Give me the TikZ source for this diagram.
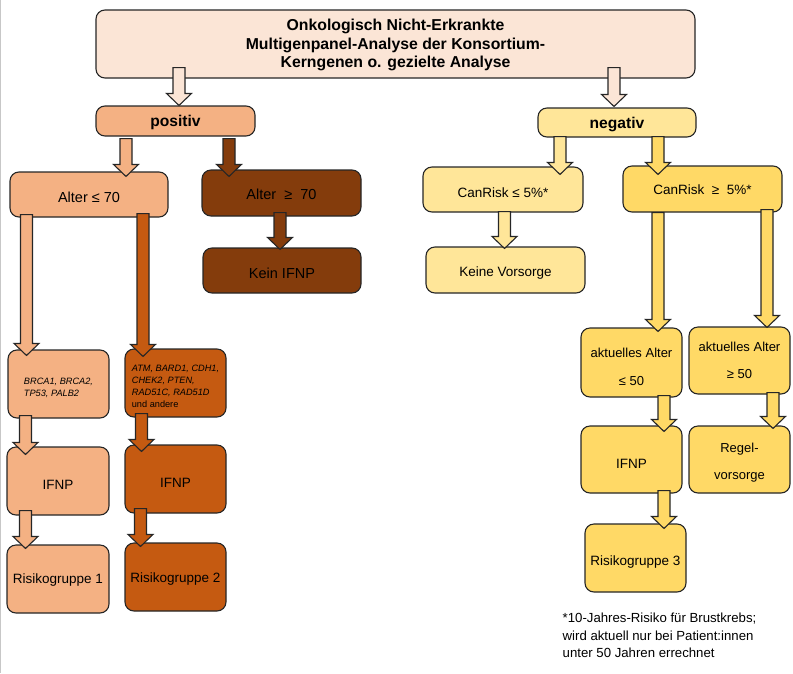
\documentclass[tikz,border=0pt]{standalone}
\usepackage{fontspec}
\setmainfont{Liberation Sans}
\usetikzlibrary{calc}
\definecolor{riskpale}{RGB}{251,229,214}
\definecolor{risklight}{RGB}{244,177,131}
\definecolor{riskmid}{RGB}{197,90,17}
\definecolor{riskdark}{RGB}{132,60,12}
\definecolor{negpale}{RGB}{255,230,153}
\definecolor{negmid}{RGB}{255,217,102}
% strut that pushes the text a little below the middle of its box
\newcommand{\lowr}[1][16pt]{\rule{0pt}{#1}}
\tikzset{
  riskbox/.style={
    rectangle,
    rounded corners=9pt,
    draw=black!85,
    line width=1.1pt,
    align=center,
    inner sep=0pt,
    font=\fontsize{13.5}{16}\selectfont
  },
  genebox/.style={
    riskbox,
    align=left,
    font=\fontsize{9.2}{11.5}\selectfont
  },
  blockarrow/.style={
    draw=black!85,
    line width=1.1pt,
    to path={
      let \p1=(\tikztostart), \p2=(\tikztotarget) in
      (\x1-6pt,\y1) -- (\x1+6pt,\y1) -- (\x1+6pt,\y2+12pt) -- (\x1+12.5pt,\y2+12pt)
      -- (\x1,\y2) -- (\x1-12.5pt,\y2+12pt) -- (\x1-6pt,\y2+12pt) -- cycle
    }
  }
}

\begin{document}
\begin{tikzpicture}[x=1pt,y=-1pt]
\useasboundingbox (0,0) rectangle (793,673);
\draw[black!22, line width=1pt] (0.6,0) -- (0.6,673);

% boxes
\node[riskbox, fill=riskpale, minimum width=599pt, minimum height=68pt, font=\fontsize{15.8}{18.5}\selectfont\bfseries] (top) at (395.5,44)
  {\lowr[13.5pt]Onkologisch Nicht-Erkrankte\\Multigenpanel-Analyse der Konsortium-\\Kerngenen o. gezielte Analyse};
\node[riskbox, fill=risklight, minimum width=159pt, minimum height=30pt, font=\fontsize{15.6}{18}\selectfont\bfseries] (pos) at (175.5,121) {\lowr[15pt]positiv};
\node[riskbox, fill=negpale, minimum width=158pt, minimum height=29pt, font=\fontsize{15.6}{18}\selectfont\bfseries] (neg) at (617,122.5) {\lowr[15pt]negativ};

\node[riskbox, fill=risklight, minimum width=158pt, minimum height=45pt, font=\fontsize{14.5}{17}\selectfont] (altlo) at (89,194.5) {\lowr Alter ≤ 70};
\node[riskbox, fill=riskdark, minimum width=159pt, minimum height=46pt, font=\fontsize{14.5}{17}\selectfont] (althi) at (281.5,193) {\lowr[12.5pt]Alter\ \ ≥\ \ 70};
\node[riskbox, fill=riskdark, minimum width=158pt, minimum height=45pt, font=\fontsize{14.5}{17}\selectfont] (kein) at (282,270.5) {\lowr Kein IFNP};

\node[riskbox, fill=negpale, minimum width=160pt, minimum height=45pt] (canlo) at (503,189.5) {\lowr CanRisk ≤ 5\%*};
\node[riskbox, fill=negmid, minimum width=159pt, minimum height=46pt] (canhi) at (702.5,189) {\lowr[12pt]CanRisk\ \ ≥\ \ 5\%*};
\node[riskbox, fill=negpale, minimum width=159pt, minimum height=46pt] (keine) at (505.5,270) {\lowr Keine Vorsorge};

\node[genebox, fill=risklight, minimum width=101pt, minimum height=68pt] (brca) at (58.5,384)
  {\lowr[14.5pt]\itshape BRCA1, BRCA2,\\\itshape TP53, PALB2};
\node[genebox, fill=riskmid, minimum width=101pt, minimum height=68pt, font=\fontsize{9.2}{12}\selectfont] (atm) at (175.5,383)
  {\lowr[12.5pt]\itshape ATM, BARD1, CDH1,\\\itshape CHEK2, PTEN,\\\itshape RAD51C, RAD51D\\und andere};
\node[riskbox, fill=risklight, minimum width=102pt, minimum height=68pt] (ifnpa) at (58,481) {\lowr IFNP};
\node[riskbox, fill=riskmid, minimum width=101pt, minimum height=68pt] (ifnpb) at (175.5,479) {\lowr IFNP};
\node[riskbox, fill=risklight, minimum width=102pt, minimum height=68pt] (riska) at (58,579) {\lowr[12pt]Risikogruppe 1};
\node[riskbox, fill=riskmid, minimum width=101pt, minimum height=68pt] (riskb) at (175.5,577) {\lowr[13pt]Risikogruppe 2};

\node[riskbox, fill=negmid, minimum width=101pt, minimum height=69pt, font=\fontsize{13}{28}\selectfont] (agelo) at (631.5,362.5) {\lowr[19pt]aktuelles Alter\\≤ 50};
\node[riskbox, fill=negmid, minimum width=101pt, minimum height=67pt, font=\fontsize{13}{27}\selectfont] (agehi) at (739.5,360.5) {aktuelles Alter\\≥ 50};
\node[riskbox, fill=negmid, minimum width=101pt, minimum height=67pt] (ifnpc) at (631.5,459.5) {\lowr[17pt]IFNP};
\node[riskbox, fill=negmid, minimum width=101pt, minimum height=67pt, font=\fontsize{13}{27}\selectfont] (regel) at (739.5,459.5) {\lowr[15.5pt]Regel-\\vorsorge};
\node[riskbox, fill=negmid, minimum width=101pt, minimum height=68pt] (riskc) at (635.5,558) {\lowr[18pt]Risikogruppe 3};

\node[anchor=north west, align=left, inner sep=0pt, font=\fontsize{13.2}{17.5}\selectfont] (note) at (562.5,613)
  {*10-Jahres-Risiko für Brustkrebs;\\wird aktuell nur bei Patient:innen\\unter 50 Jahren errechnet};

% arrows
\draw[blockarrow, fill=riskpale] ([xshift=-216.5pt,yshift=11pt]top.south) to (pos.north);
\draw[blockarrow, fill=riskpale] ([xshift=218.5pt,yshift=11pt]top.south) to ([yshift=1pt]neg.north);
\draw[blockarrow, fill=risklight] ([xshift=-49.5pt,yshift=-2pt]pos.south) to ([yshift=-5pt]altlo.north);
\draw[blockarrow, fill=riskdark] ([xshift=53.5pt,yshift=-2pt]pos.south) to ([yshift=-7pt]althi.north);
\draw[blockarrow, fill=riskdark] ([xshift=-1.5pt,yshift=4pt]althi.south) to ([yshift=-2pt]kein.north);
\draw[blockarrow, fill=negpale] ([xshift=-57pt,yshift=1pt]neg.south) to ([yshift=-8pt]canlo.north);
\draw[blockarrow, fill=negmid] ([xshift=41pt,yshift=1pt]neg.south) to ([yshift=-9pt]canhi.north);
\draw[blockarrow, fill=negpale] ([xshift=1.5pt,yshift=1pt]canlo.south) to ([yshift=-2pt]keine.north);
\draw[blockarrow, fill=risklight] ([xshift=-62.5pt,yshift=3pt]altlo.south) to ([yshift=-6pt]brca.north);
\draw[blockarrow, fill=riskmid] ([xshift=54pt,yshift=4pt]altlo.south) to ([yshift=-8pt]atm.north);
\draw[blockarrow, fill=risklight] ([xshift=-33pt,yshift=3pt]brca.south) to ([yshift=-8pt]ifnpa.north);
\draw[blockarrow, fill=risklight] ([xshift=-32.5pt,yshift=5pt]ifnpa.south) to ([yshift=-4pt]riska.north);
\draw[blockarrow, fill=riskmid] ([xshift=-34pt,yshift=4pt]atm.south) to ([yshift=-7pt]ifnpb.north);
\draw[blockarrow, fill=riskmid] ([xshift=-35pt,yshift=5pt]ifnpb.south) to ([yshift=-4pt]riskb.north);
\draw[blockarrow, fill=negmid] ([xshift=-44.5pt,yshift=0pt]canhi.south) to ([yshift=-4pt]agelo.north);
\draw[blockarrow, fill=negmid] ([xshift=64.5pt,yshift=3pt]canhi.south) to ([yshift=-1pt]agehi.north);
\draw[blockarrow, fill=negmid] ([xshift=32.5pt,yshift=2pt]agelo.south) to ([yshift=-6pt]ifnpc.north);
\draw[blockarrow, fill=negmid] ([xshift=33.5pt,yshift=2pt]agehi.south) to ([yshift=-3pt]regel.north);
\draw[blockarrow, fill=negmid] ([xshift=32.5pt,yshift=3pt]ifnpc.south) to ([yshift=-5pt]riskc.north);
\end{tikzpicture}
\end{document}
